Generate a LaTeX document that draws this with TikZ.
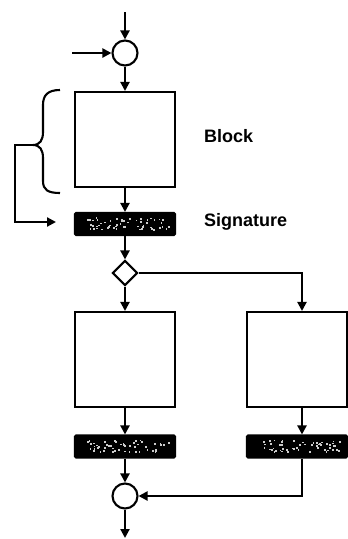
\documentclass[tikz,border=0pt]{standalone}
\usepackage{fontspec}
\setmainfont{Liberation Sans}
\usetikzlibrary{shapes.geometric,arrows.meta,calc}
\begin{document}
\begin{tikzpicture}[x=1pt,y=-1pt,
 line width=2.1pt,
 arr/.style={-{Triangle[length=9pt,width=9pt]}},
 blk/.style={draw, rectangle, minimum width=100pt, minimum height=95pt, inner sep=0pt},
 sig/.style={fill=black, draw, rectangle, minimum width=100pt, minimum height=22pt, inner sep=0pt, rounded corners=1pt},
 junc/.style={draw, circle, minimum size=25pt, inner sep=0pt},
 dia/.style={draw, diamond, minimum width=25pt, minimum height=25pt, inner sep=0pt, aspect=1},
 lbl/.style={font=\bfseries\fontsize{18}{20}\selectfont, anchor=west, inner sep=0pt},
 speck/.style={fill=white!60!gray}]
\useasboundingbox (0,0) rectangle (348,539);
\coordinate (in1) at (125,12);
\coordinate (in2) at (72,53);
\node[junc] (c1) at (125,53) {};
\node[blk] (b0) at (125,139.5) {};
\node[sig] (s0) at (125,224) {};
\node[dia] (d) at (125,273) {};
\node[blk] (b1) at (125,359.5) {};
\node[blk] (b2) at (297,359.5) {};
\node[sig] (s1) at (125,446.5) {};
\node[sig] (s2) at (297,446.5) {};
\node[junc] (c2) at (125,496) {};
\coordinate (out) at (125,538);
\node[lbl] (lb) at (203,136) {Block};
\node[lbl] (ls) at (203,222) {Signature};
% speckle texture on signature bars
\pgfmathsetseed{7}
\foreach \s in {s0,s1,s2}{
  \foreach \i in {1,...,55}{
    \pgfmathsetmacro\dx{rnd*82-38}
    \pgfmathsetmacro\dy{rnd*12-7}
    \fill[speck] ($(\s.center)+(\dx,\dy)$) rectangle +(1.8,1.8);
  }
}
% connectors
\draw[arr] (in1) -- (c1.north);
\draw[arr] (in2) -- (c1.west);
\draw[arr] (c1.south) -- (b0.north);
\draw[arr] (b0.south) -- (s0.north);
\draw[arr] (s0.south) -- (d.north);
\draw[arr] (d.south) -- (b1.north);
\draw[arr] (d.east) -| ($(b2.north)+(5,0)$);
\draw[arr] (b1.south) -- (s1.north);
\draw[arr] ($(b2.south)+(5,0)$) -- ($(s2.north)+(5,0)$);
\draw[arr] (s1.south) -- (c2.north);
\draw[arr] ($(s2.south)+(5,0)$) |- (c2.east);
\draw[arr] (c2.south) -- (out);
% brace and feedback
\coordinate (tip) at (33,145);
\coordinate (fb) at (56,222);
\draw (60,90) .. controls (48,90) and (43,95) .. (43,105) -- (43,132)
  .. controls (43,140) and (40,145) .. (tip)
  .. controls (40,145) and (43,150) .. (43,158) -- (43,181)
  .. controls (43,190) and (48,193) .. (60,193);
\draw[arr] (tip) -- (15,145) -- (15,222) -- (fb);
\end{tikzpicture}
\end{document}
